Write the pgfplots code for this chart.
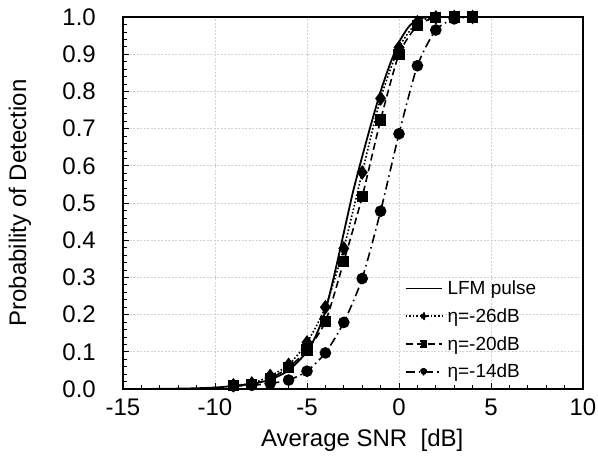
\documentclass[border=0pt]{standalone}
\usepackage{pgfplots}
\pgfplotsset{compat=1.18}
\usepackage{fontspec}
\setmainfont{Liberation Sans}
\begin{document}
\begin{tikzpicture}
\begin{axis}[
  scale only axis,
  width=460bp, height=372bp,
  xmin=-15, xmax=10, ymin=0, ymax=1,
  xtick={-15,-10,...,10},
  ytick={0,0.1,...,1.01},
  minor x tick num=4,
  minor y tick num=4,
  tick align=inside,
  xtick pos=left, ytick pos=left,
  major tick length=6bp, minor tick length=4bp,
  tick style={black, line width=0.7bp},
  axis line style={black, line width=1.2bp},
  grid=major,
  major grid style={gray!35, line width=0.7bp, dash pattern=on 2bp off 1.5bp},
  /pgf/number format/assume math mode=true,
  yticklabel style={/pgf/number format/fixed, /pgf/number format/fixed zerofill, /pgf/number format/precision=1},
  tick label style={font=\fontsize{24bp}{28bp}\selectfont, inner sep=0pt},
  xticklabel style={anchor=north, yshift=-10bp},
  yticklabel style={anchor=east, xshift=-27bp},
  label style={font=\fontsize{24bp}{28bp}\selectfont},
  xlabel={Average SNR\ \ [dB]},
  ylabel={Probability\ of Detection},
  xlabel style={at={(axis description cs:0.52,-0.137)}, anchor=center},
  ylabel style={at={(axis description cs:-0.224,0.5)}, anchor=center},
  legend style={draw=none, fill=none, at={(0.612,0.02)}, anchor=south west,
    font=\fontsize{19bp}{22bp}\selectfont, row sep=8.5bp, inner sep=0pt,
    nodes={inner xsep=5bp}},
  legend cell align=left,
  legend image code/.code={\draw[mark repeat=2,mark phase=2] plot coordinates {(0bp,0bp)(18bp,0bp)(36bp,0bp)};},
  legend image post style={mark options={scale=0.6}},
  clip=true,
]
\addplot[black, line width=1.8bp, smooth, tension=0.4] coordinates {
(-15,0)(-14,0)(-13,0.0005)(-12,0.001)(-11,0.002)(-10,0.004)(-9,0.008)(-8,0.014)(-7,0.025)(-6,0.05)(-5,0.1)(-4.5,0.145)(-4,0.21)(-3.5,0.31)(-3,0.42)(-2.5,0.53)(-2,0.625)(-1.5,0.715)(-1,0.80)(-0.5,0.872)(0,0.932)(0.5,0.972)(1,0.994)(1.5,0.999)(2,1)(3,1)(5,1)(10,1)};
\addlegendentry{LFM pulse}
\addplot[black, line width=1.6bp, dotted, smooth, tension=0.4, mark=diamond*, mark size=6bp, mark options={solid}] coordinates {
(-9,0.01)(-8,0.015)(-7,0.035)(-6,0.065)(-5,0.125)(-4,0.22)(-3,0.378)(-2,0.582)(-1,0.781)(0,0.918)(1,0.986)(2,0.999)(3,1)(4,1)};
\addlegendentry{η=-26dB}
\addplot[black, line width=1.6bp, dash pattern=on 7bp off 4bp, smooth, tension=0.4, mark=square*, mark size=4.8bp, mark options={solid}] coordinates {
(-9,0.01)(-8,0.013)(-7,0.028)(-6,0.058)(-5,0.105)(-4,0.181)(-3,0.343)(-2,0.517)(-1,0.723)(0,0.90)(1,0.977)(2,0.998)(3,1)(4,1)};
\addlegendentry{η=-20dB}
\addplot[black, line width=1.6bp, dash pattern=on 9bp off 4bp on 1.5bp off 4bp, smooth, tension=0.4, mark=*, mark size=5bp, mark options={solid}] coordinates {
(-9,0.008)(-8,0.01)(-7,0.015)(-6,0.024)(-5,0.048)(-4,0.097)(-3,0.179)(-2,0.297)(-1,0.478)(0,0.686)(1,0.869)(2,0.965)(3,0.995)(4,1)};
\addlegendentry{η=-14dB}
\end{axis}
\pgfresetboundingbox
\path (-123bp,-76bp) rectangle (475bp,389bp);
\end{tikzpicture}
\end{document}
